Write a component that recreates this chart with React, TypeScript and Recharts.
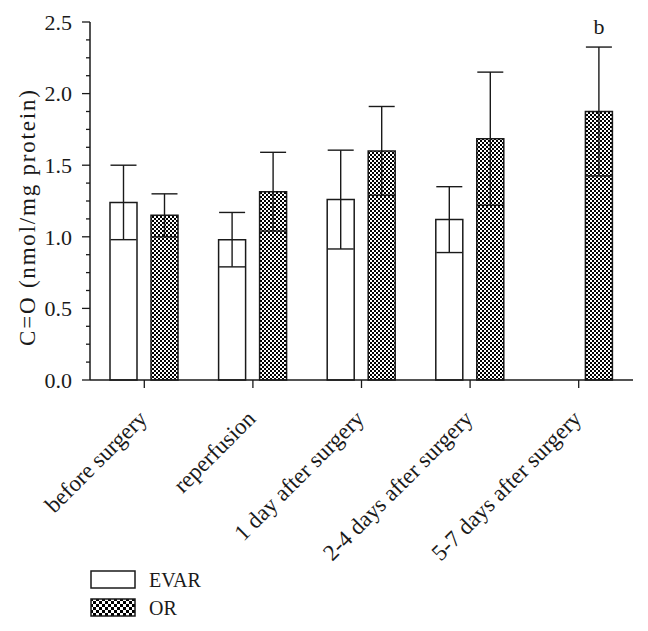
import React from "react";
import { BarChart, Bar, XAxis, YAxis, ErrorBar, LabelList, Label } from "recharts";

const categories = [
  "before surgery",
  "reperfusion",
  "1 day after surgery",
  "2-4 days after surgery",
  "5-7 days after surgery",
];
const evarMean = [1.24, 0.98, 1.26, 1.12, null];
const evarSd = [0.26, 0.19, 0.345, 0.23, null];
const orMean = [1.15, 1.315, 1.6, 1.685, 1.875];
const orSd = [0.15, 0.275, 0.31, 0.465, 0.45];
const orNotes = ["", "", "", "", "b"];
const yTicks = [0, 0.125, 0.25, 0.375, 0.5, 0.625, 0.75, 0.875, 1, 1.125, 1.25, 1.375, 1.5, 1.625, 1.75, 1.875, 2, 2.125, 2.25, 2.375, 2.5];

const FONT = "'Liberation Serif', 'DejaVu Serif', serif";
const INK = "#1a1a1a";

const data = categories.map((name, i) => ({
  name,
  evar: evarMean[i],
  evarErr: evarSd[i],
  or: orMean[i],
  orErr: orSd[i],
  note: orNotes[i],
}));

const AXIS_X = 90;

function YTick(props: any) {
  const { y, payload } = props;
  const v = payload.value as number;
  const major = Math.abs(v * 2 - Math.round(v * 2)) < 1e-6;
  return (
    <g>
      <line x1={AXIS_X - (major ? 8 : 4)} x2={AXIS_X} y1={y} y2={y} stroke={INK} strokeWidth={1.3} />
      {major && (
        <text x={AXIS_X - 18} y={y} dy="0.35em" textAnchor="end" fontSize={22} fontFamily={FONT} fill={INK}>
          {v.toFixed(1)}
        </text>
      )}
    </g>
  );
}

function XTick(props: any) {
  const { x, y, payload } = props;
  const ax = x + 4;
  const ay = y + 30;
  return (
    <text
      x={ax}
      y={ay}
      transform={`rotate(-45 ${ax} ${ay})`}
      textAnchor="end"
      fontSize={23}
      fontFamily={FONT}
      fill={INK}
    >
      {payload.value}
    </text>
  );
}

function NoteLabel(props: any) {
  const { x, y, width, height, value, index } = props;
  const note = orNotes[index];
  if (!note || !value) return null;
  const pxPerUnit = height / value;
  const top = y - orSd[index] * pxPerUnit;
  return (
    <text x={x + width / 2} y={top - 13} textAnchor="middle" fontSize={22} fontFamily={FONT} fill={INK}>
      {note}
    </text>
  );
}

function Swatch({ fill }: { fill: string }) {
  return (
    <svg width={46} height={20} style={{ display: "block" }}>
      <defs>
        <pattern id="checkerLegend" width="6" height="6" patternUnits="userSpaceOnUse">
          <rect width="6" height="6" fill="#fff" />
          <rect width="3" height="3" fill="#000" />
          <rect x="3" y="3" width="3" height="3" fill="#000" />
        </pattern>
      </defs>
      <rect x={1} y={1} width={44} height={17} fill={fill} stroke={INK} strokeWidth={1.5} />
    </svg>
  );
}

export default function App() {
  return (
    <div style={{ position: "absolute", left: 0, top: 0, width: 648, height: 631, background: "#fff" }}>
      <BarChart
        width={648}
        height={631}
        data={data}
        margin={{ top: 22, right: 15, bottom: 51, left: 30 }}
        barSize={27}
        barGap={14}
      >
        <defs>
          <pattern id="checker" width="4" height="4" patternUnits="userSpaceOnUse">
            <rect width="4" height="4" fill="#fff" />
            <rect width="2" height="2" fill="#000" />
            <rect x="2" y="2" width="2" height="2" fill="#000" />
          </pattern>
        </defs>
        <XAxis
          dataKey="name"
          interval={0}
          height={200}
          axisLine={{ stroke: INK, strokeWidth: 1.5 }}
          tickLine={{ stroke: INK, strokeWidth: 1.3 }}
          tickSize={8}
          tick={<XTick />}
        />
        <YAxis
          width={60}
          domain={[0, 2.5]}
          ticks={yTicks}
          interval={0}
          axisLine={{ stroke: INK, strokeWidth: 1.5 }}
          tickLine={false}
          tick={<YTick />}
        >
          <Label
            content={() => (
              <text
                transform="translate(35 218) rotate(-90)"
                textAnchor="middle"
                fontSize={23}
                fontFamily={FONT}
                fill={INK}
                textLength={256}
                lengthAdjust="spacing"
              >
                C=O (nmol/mg protein)
              </text>
            )}
          />
        </YAxis>
        <Bar dataKey="evar" fill="#fff" stroke={INK} strokeWidth={1.5} isAnimationActive={false}>
          <ErrorBar dataKey="evarErr" width={13} stroke={INK} strokeWidth={1.4} direction="y" isAnimationActive={false} />
        </Bar>
        <Bar dataKey="or" fill="url(#checker)" stroke={INK} strokeWidth={1.5} isAnimationActive={false}>
          <ErrorBar dataKey="orErr" width={13} stroke={INK} strokeWidth={1.4} direction="y" isAnimationActive={false} />
          <LabelList dataKey="or" content={<NoteLabel />} />
        </Bar>
      </BarChart>
      <div style={{ position: "absolute", left: 90, top: 566, fontFamily: FONT, fontSize: 20, color: INK }}>
        <div style={{ display: "flex", alignItems: "center", height: 28 }}>
          <Swatch fill="#fff" />
          <span style={{ marginLeft: 13 }}>EVAR</span>
        </div>
        <div style={{ display: "flex", alignItems: "center", height: 28 }}>
          <Swatch fill="url(#checkerLegend)" />
          <span style={{ marginLeft: 13 }}>OR</span>
        </div>
      </div>
    </div>
  );
}
